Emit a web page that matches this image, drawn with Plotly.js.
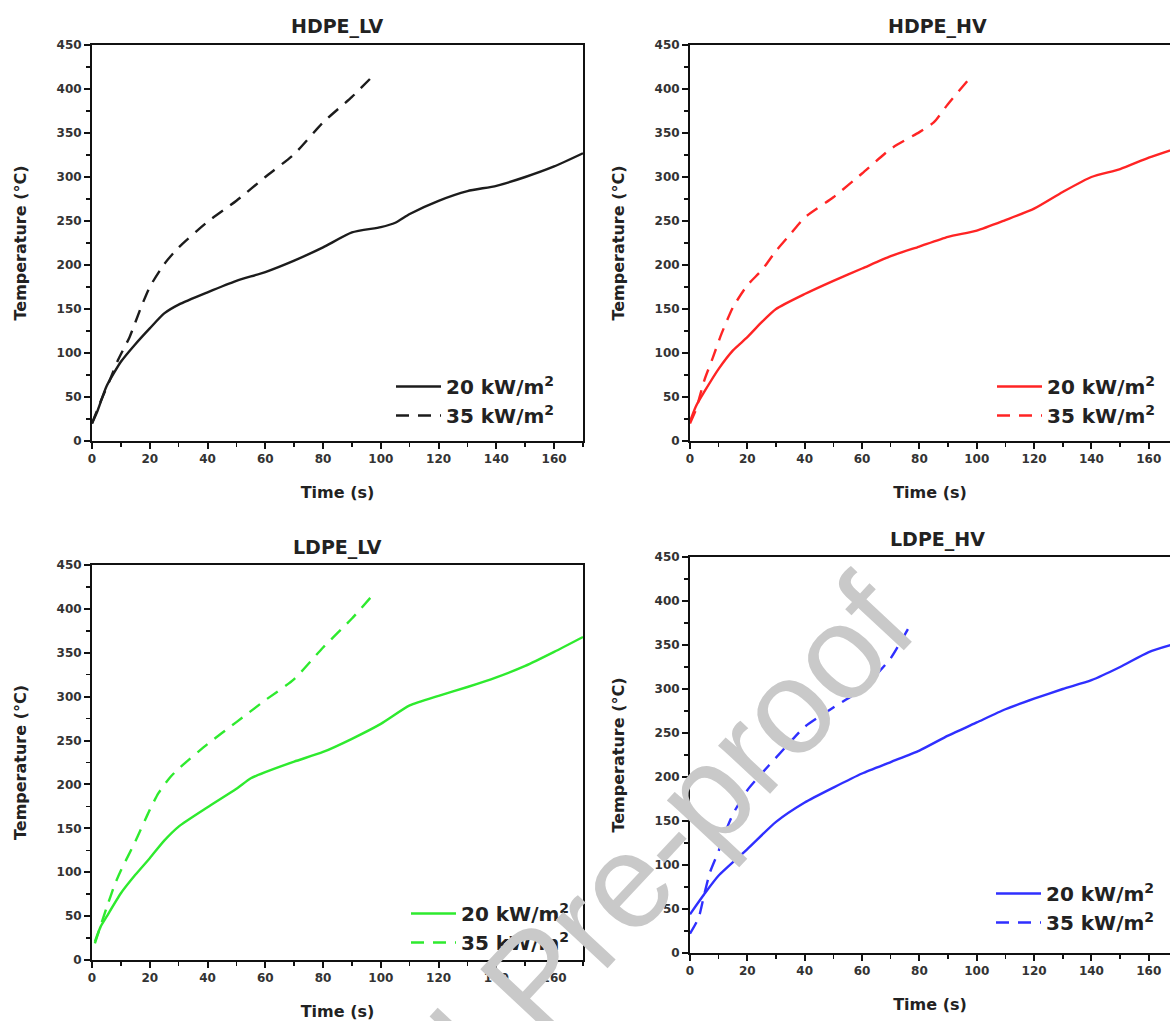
<!DOCTYPE html>
<html>
<head>
<meta charset="utf-8">
<script src="https://cdn.plot.ly/plotly-3.0.1.min.js"></script>
<style>html,body{margin:0;padding:0;background:#fff;}#chart{width:1170px;height:1021px;}</style>
</head>
<body>
<div id="chart"></div>
<script>
// ---- Data ----
const panelTitles = ["HDPE_LV", "HDPE_HV", "LDPE_LV", "LDPE_HV"];
const seriesNames = ["20 kW/m<sup>2</sup>", "35 kW/m<sup>2</sup>"];

const tHdpeLv20 = [0,2,5,10,15,20,25,30,40,50,60,70,80,90,100,105,110,120,130,140,150,160,170];
const yHdpeLv20 = [20,35,62,90,110,128,145,155,169,182,192,205,220,237,243,248,258,273,284,290,300,312,327];
const tHdpeLv35 = [0,3,6,9,13,17,20,25,30,40,50,60,70,80,90,97];
const yHdpeLv35 = [20,45,68,92,118,152,175,201,220,249,273,300,326,362,391,414];

const tHdpeHv20 = [0,2,5,10,15,20,25,30,40,50,60,70,80,90,100,110,120,130,140,150,160,170];
const yHdpeHv20 = [22,39,56,82,103,118,135,150,167,182,196,210,221,232,239,251,264,283,300,309,322,333];
const tHdpeHv35 = [0,2,5,8,11,15,20,25,30,35,40,50,60,70,80,85,90,97];
const yHdpeHv35 = [20,35,69,95,122,152,177,194,216,235,254,277,304,332,351,362,383,410];

const tLdpeLv20 = [1,3,5,10,15,20,25,30,40,50,55,60,70,80,90,100,110,120,130,140,150,160,170];
const yLdpeLv20 = [21,38,49,76,97,116,136,152,174,195,207,214,226,237,252,269,290,301,311,322,335,351,368];
const tLdpeLv35 = [1,5,8,10,15,20,23,27,30,40,50,60,70,80,90,97];
const yLdpeLv35 = [19,59,87,102,135,171,190,208,218,246,271,296,320,356,389,415];

const tLdpeHv20 = [0,5,10,20,30,40,50,60,70,80,90,100,110,120,130,140,150,160,170];
const yLdpeHv20 = [44,67,88,118,149,171,188,204,217,230,247,262,277,289,300,310,325,342,352];
const tLdpeHv35 = [0,3,5,7,10,13,15,20,25,30,35,40,50,60,66,70,76];
const yLdpeHv35 = [22,40,67,92,116,143,158,185,204,222,240,257,279,300,320,335,368];

const xTickVals = [0,20,40,60,80,100,120,140,160];
const yTickVals = [0,50,100,150,200,250,300,350,400,450];
const xAxisTitle = "Time (s)";
const yAxisTitle = "Temperature (°C)";
const watermark = "Journal Pre-proof";

// ---- Styling ----
const colors = ["#1c1c1c", "#ff2424", "#2eea2e", "#2f2fff"];
const FONT = "DejaVu Sans, Liberation Sans, Arial, sans-serif";
const dashPattern = "13px,9px";

const panels = [
  {t20:tHdpeLv20, y20:yHdpeLv20, t35:tHdpeLv35, y35:yHdpeLv35},
  {t20:tHdpeHv20, y20:yHdpeHv20, t35:tHdpeHv35, y35:yHdpeHv35},
  {t20:tLdpeLv20, y20:yLdpeLv20, t35:tLdpeLv35, y35:yLdpeLv35},
  {t20:tLdpeHv20, y20:yLdpeHv20, t35:tLdpeHv35, y35:yLdpeHv35}
];

const W = 1170, H = 1021;
const px = v => v / W;
const py = v => 1 - v / H;

// pixel geometry of each plot area [left, right, top, bottom], x-range max
const geom = [
  {l:92,  r:583,  t:45,  b:441, xmax:170},
  {l:690, r:1170, t:45,  b:441, xmax:167.4},
  {l:92,  r:583,  t:565, b:960, xmax:170},
  {l:690, r:1170, t:557, b:953, xmax:167.4}
];
const legendPos = [
  {x:391, y:367},
  {x:992, y:367},
  {x:406, y:894},
  {x:991, y:874}
];

const traces = [];
panels.forEach((p, i) => {
  const ax = i === 0 ? "" : String(i + 1);
  const lg = i === 0 ? "legend" : "legend" + (i + 1);
  traces.push({
    x: p.t20, y: p.y20, xaxis: "x" + ax, yaxis: "y" + ax,
    type: "scatter", mode: "lines", name: seriesNames[0],
    line: {color: colors[i], width: 2.4, shape: "spline", smoothing: 0.6},
    legend: lg, legendgroup: "a" + i
  });
  traces.push({
    x: p.t35, y: p.y35, xaxis: "x" + ax, yaxis: "y" + ax,
    type: "scatter", mode: "lines", name: seriesNames[1],
    line: {color: colors[i], width: 2.4, dash: dashPattern, shape: "spline", smoothing: 0.6},
    legend: lg, legendgroup: "b" + i
  });
});

const tickFont = {family: FONT, size: 12, color: "#333", weight: "bold"};
const titleFont = {family: FONT, size: 16, color: "#222", weight: "bold"};

const layout = {
  width: W, height: H,
  margin: {l: 0, r: 0, t: 0, b: 0},
  paper_bgcolor: "#fff", plot_bgcolor: "#fff",
  showlegend: true,
  annotations: [],
  font: {family: FONT}
};

geom.forEach((g, i) => {
  const ax = i === 0 ? "" : String(i + 1);
  const rightCut = (i === 1 || i === 3);
  layout["xaxis" + ax] = {
    domain: [px(g.l), px(g.r)], anchor: "y" + ax,
    range: [0, g.xmax], tickvals: xTickVals,
    showline: true, linewidth: 2, linecolor: "#111", mirror: true,
    ticks: "outside", ticklen: 6, tickwidth: 2, tickcolor: "#111",
    minor: {dtick: 10, tick0: 0, ticks: "outside", ticklen: 4, tickwidth: 1.5, tickcolor: "#111"},
    showgrid: false, zeroline: false, tickfont: tickFont,
    title: {text: xAxisTitle, font: titleFont, standoff: 21},
    fixedrange: true
  };
  layout["yaxis" + ax] = {
    domain: [py(g.b), py(g.t)], anchor: "x" + ax,
    range: [0, 450], tickvals: yTickVals,
    showline: true, linewidth: 2, linecolor: "#111", mirror: !rightCut,
    ticks: "outside", ticklen: 6, tickwidth: 2, tickcolor: "#111",
    minor: {dtick: 25, tick0: 0, ticks: "outside", ticklen: 4, tickwidth: 1.5, tickcolor: "#111"},
    showgrid: false, zeroline: false, tickfont: tickFont,
    title: {text: yAxisTitle, font: titleFont, standoff: 26},
    fixedrange: true
  };
  const lg = i === 0 ? "legend" : "legend" + (i + 1);
  layout[lg] = {
    x: px(legendPos[i].x), y: py(legendPos[i].y),
    xanchor: "left", yanchor: "top",
    bgcolor: "rgba(0,0,0,0)", borderwidth: 0,
    font: {family: FONT, size: 20, color: "#222", weight: "bold"},
    itemwidth: 45,
    tracegroupgap: 5, traceorder: "normal"
  };
  layout.annotations.push({
    text: panelTitles[i], xref: "paper", yref: "paper",
    x: px((g.l + (rightCut ? 1184 : g.r)) / 2), y: py(g.t - 18),
    xanchor: "center", yanchor: "middle", showarrow: false,
    font: {family: FONT, size: 19, color: "#222", weight: "bold"}
  });
});

layout.annotations.push({
  text: watermark, xref: "paper", yref: "paper",
  x: px(534), y: py(978), xanchor: "center", yanchor: "middle",
  showarrow: false, textangle: -47,
  font: {family: "Liberation Sans, Arial, sans-serif", size: 134, color: "#c9c9c9"}
});

Plotly.newPlot("chart", traces, layout, {displayModeBar: false, staticPlot: true});
</script>
</body>
</html>
